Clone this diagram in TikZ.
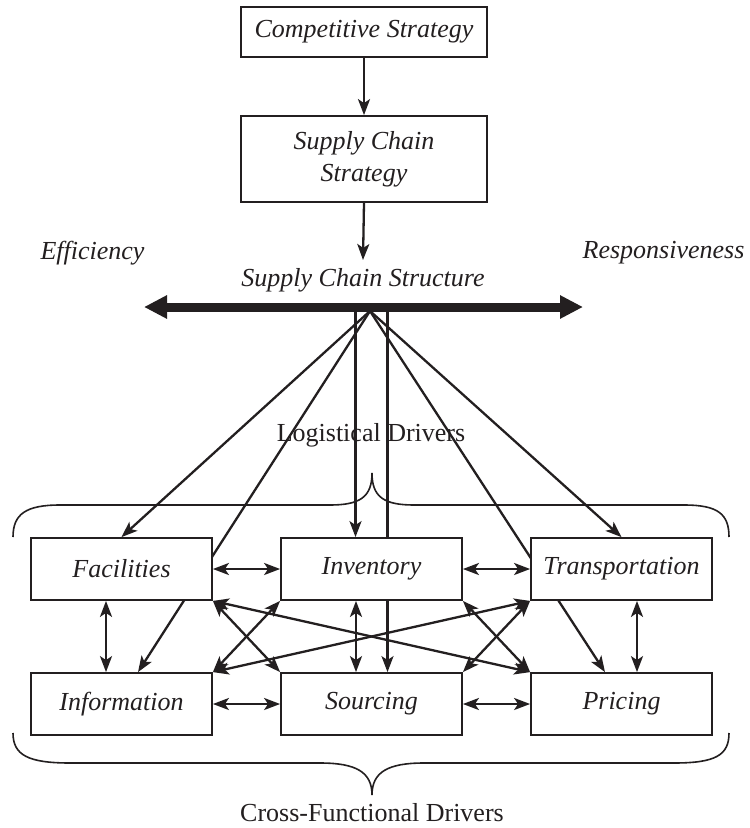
\documentclass[tikz,border=0pt]{standalone}
\usepackage{fontspec}
\setmainfont{Liberation Serif}
\usetikzlibrary{arrows.meta,backgrounds}
\definecolor{ink}{RGB}{35,31,32}
\begin{document}
\begin{tikzpicture}[x=1pt,y=-1pt,
  every node/.style={text=ink},
  lbl/.style={font=\fontsize{26}{32}\selectfont\itshape, inner sep=0pt},
  plain/.style={font=\fontsize{26}{32}\selectfont, inner sep=0pt},
  box/.style={draw=ink, fill=white, line width=1.8pt, minimum width=181pt, minimum height=62pt, inner sep=0pt, font=\fontsize{26}{32}\selectfont\itshape},
  myst/.tip={Stealth[length=16pt,width=12pt,inset=4pt]},
  conn/.style={draw=ink, line width=2.3pt},
  arr/.style={conn, -myst},
  darr/.style={conn, myst-myst},
  brace/.style={draw=ink, line width=1.6pt}]
\useasboundingbox (0,0) rectangle (750,828);

% top part
\node[box, minimum width=246pt, minimum height=50pt] (cs) at (364,32) {Competitive Strategy};
\node[box, minimum width=246pt, minimum height=86pt, align=center] (scs) at (364,159) {Supply Chain\\Strategy};
\coordinate (sct) at (363,260);
\draw[arr] (cs.south) -- (scs.north);
\draw[arr] (scs.south) -- (sct);

\node[lbl] (eff) at (92.5,253) {Efficiency};
\node[lbl] (resp) at (663.5,253) {Responsiveness};
\node[lbl] (struct) at (363,280) {Supply Chain Structure};
\node[plain] (logi) at (371,435) {Logistical Drivers};
\node[plain] (cfd) at (372,813) {Cross-Functional Drivers};

% structure bar
\coordinate (barL) at (144,307);
\coordinate (barR) at (583,307);
\draw[ink, line width=9pt, {Triangle[length=23pt,width=22pt]}-{Triangle[length=23pt,width=22pt]}] (barL) -- (barR);

\coordinate (fan) at (370,311);
\coordinate (vA) at (355.5,311);
\coordinate (vB) at (387.5,311);

% driver boxes
\node[box] (fac) at (121.5,569) {Facilities};
\node[box] (inv) at (371.5,569) {Inventory};
\node[box] (tra) at (621.5,569) {Transportation};
\node[box] (inf) at (121.5,704) {Information};
\node[box] (sou) at (371.5,704) {Sourcing};
\node[box] (pri) at (621.5,704) {Pricing};

\begin{scope}[on background layer]
\fill[white] (0,0) rectangle (750,828);
% braces
\draw[brace] (13,537) .. controls (13,514) and (26,505) .. (60,505) -- (330,505)
  .. controls (360,505) and (372,497) .. (372,473)
  .. controls (372,497) and (384,505) .. (414,505) -- (684,505)
  .. controls (718,505) and (729,514) .. (729,537);
\draw[brace] (13,733) .. controls (13,755) and (28,763) .. (70,763) -- (320,763)
  .. controls (356,763) and (372,772) .. (372,795)
  .. controls (372,772) and (388,763) .. (424,763) -- (674,763)
  .. controls (716,763) and (729,755) .. (729,733);
% fan lines
\draw[arr] (fan) -- (fac.north);
\draw[arr] (fan) -- ([xshift=16.5pt]inf.north);
\draw[arr] (vA) -- ([xshift=-16pt]inv.north);
\draw[arr] (vB) -- ([xshift=16pt]sou.north);
\draw[arr] (fan) -- ([xshift=-16.5pt]pri.north);
\draw[arr] (fan) -- (tra.north);
\end{scope}

% links between drivers
\draw[darr] (fac.east) -- (inv.west);
\draw[darr] (inv.east) -- (tra.west);
\draw[darr] (inf.east) -- (sou.west);
\draw[darr] (sou.east) -- (pri.west);
\draw[darr] ([xshift=-15.5pt]fac.south) -- ([xshift=-15.5pt]inf.north);
\draw[darr] ([xshift=-15.5pt]inv.south) -- ([xshift=-15.5pt]sou.north);
\draw[darr] ([xshift=15.5pt]tra.south) -- ([xshift=15.5pt]pri.north);
\draw[darr] (fac.south east) -- (pri.north west);
\draw[darr] (inf.north east) -- (tra.south west);
\draw[darr] (fac.south east) -- (sou.north west);
\draw[darr] (inf.north east) -- (inv.south west);
\draw[darr] (inv.south east) -- (pri.north west);
\draw[darr] (sou.north east) -- (tra.south west);
\end{tikzpicture}
\end{document}
